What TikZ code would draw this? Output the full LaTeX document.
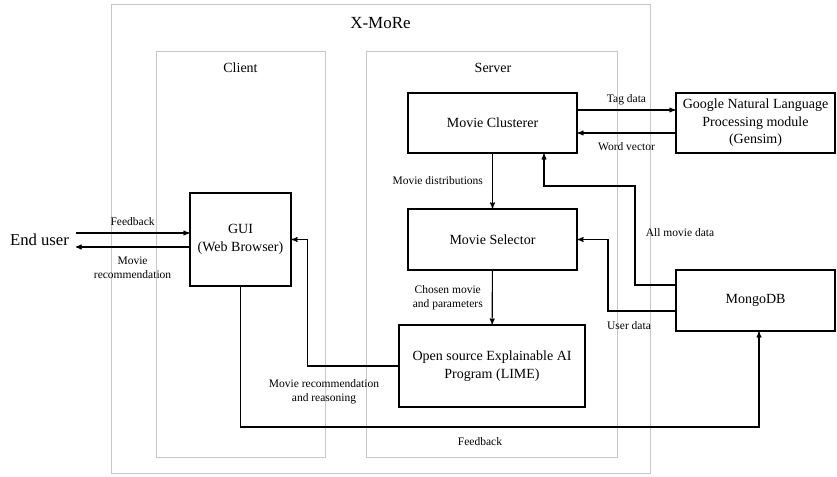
\documentclass[tikz,border=0pt]{standalone}
\usepackage{fontspec}
\setmainfont{Liberation Serif}
\usepackage{tikz}
\usetikzlibrary{arrows,positioning}

\begin{document}
\begin{tikzpicture}[x=1pt,y=-1pt,->,>=stealth',line width=1.1pt,
                    font=\fontsize{11.5}{14}\selectfont]
	\tikzstyle{frame}=[draw=black!22,line width=0.9pt,minimum width=#1,inner sep=0pt]
	\tikzstyle{block}=[draw=black,line width=1.6pt,align=center,inner sep=2pt,
	                   font=\fontsize{14}{17.5}\selectfont]
	\tikzstyle{lbl}=[align=center,inner sep=3pt]
	\useasboundingbox (0,0) rectangle (837,476);

	% containers
	\node[frame=539pt,minimum height=469pt]	(xmore)		at (380.5,238.5)	{};
	\node[frame=169pt,minimum height=406pt]	(client)	at (240.5,254)	{};
	\node[frame=251pt,minimum height=406pt]	(server)	at (491.5,254)	{};
	\node[font=\fontsize{17}{20}\selectfont]	(xmoretitle)	at (380.5,23)	{X-MoRe};
	\node[font=\fontsize{14}{17}\selectfont]	(clienttitle)	at (240.5,68)	{Client};
	\node[font=\fontsize{14}{17}\selectfont]	(servertitle)	at (493,68)	{Server};

	% blocks
	\node[block,minimum width=169pt,minimum height=60pt]	(clusterer)	at (492.5,123)	{Movie Clusterer};
	\node[block,minimum width=159pt,minimum height=60pt]	(google)	at (755.5,123)	{Google Natural Language\\Processing module\\(Gensim)};
	\node[block,minimum width=169pt,minimum height=61pt]	(selector)	at (492.5,239.5)	{Movie Selector};
	\node[block,minimum width=159pt,minimum height=61pt]	(mongo)		at (755.5,300.5)	{MongoDB};
	\node[block,minimum width=186pt,minimum height=82pt]	(lime)		at (492,366)	{Open source Explainable AI\\Program (LIME)};
	\node[block,minimum width=101pt,minimum height=93pt]	(gui)		at (240.5,239.5)	{GUI\\(Web Browser)};
	\node[font=\fontsize{16.7}{20}\selectfont,inner sep=0pt,outer sep=7pt]	(user)	at (39.5,240)	{End user};

	\coordinate (fbline)	at (0,427);
	\coordinate (allturn)	at (635,186);
	\coordinate (userturn)	at (608,239.5);

	% end user and GUI
	\draw ([yshift=7pt]user.east) -- ([yshift=7pt]user.east -| gui.west)
		node[lbl,above=4pt,pos=0.5] {Feedback};
	\draw ([yshift=-7pt]user.east -| gui.west) -- ([yshift=-7pt]user.east)
		node[lbl,below=6pt,pos=0.5] {Movie\\recommendation};
	\draw (lime.west) -| ([xshift=16pt]gui.east) -- (gui.east);
	\node[lbl] (recolbl) at (324,391.5) {Movie recommendation\\and reasoning};
	\draw (gui.south) -- (gui.south |- fbline) -| ([xshift=3.5pt]mongo.south);
	\node[lbl] (fblbl) at (480,442) {Feedback};

	% server
	\path (clusterer)	edge	node[lbl,left=6pt] {Movie distributions}		(selector)
		(selector)	edge	node[lbl,left=6pt] {Chosen movie\\and parameters}	(lime);
	\draw ([yshift=13pt]clusterer.east) -- ([yshift=13pt]clusterer.east -| google.west)
		node[lbl,above=1pt,pos=0.5] {Tag data};
	\draw ([yshift=-10pt]google.west) -- ([yshift=-10pt]google.west -| clusterer.east)
		node[lbl,below=6pt,pos=0.5] {Word vector};
	\draw ([yshift=15.5pt]mongo.west) -| (allturn) -| ([xshift=51.5pt]clusterer.south);
	\node[lbl] (alllbl) at (680,233) {All movie data};
	\draw ([yshift=-10.5pt]mongo.west) -| (userturn) -- (selector.east);
	\node[lbl] (userlbl) at (629,326) {User data};
\end{tikzpicture}
\end{document}
